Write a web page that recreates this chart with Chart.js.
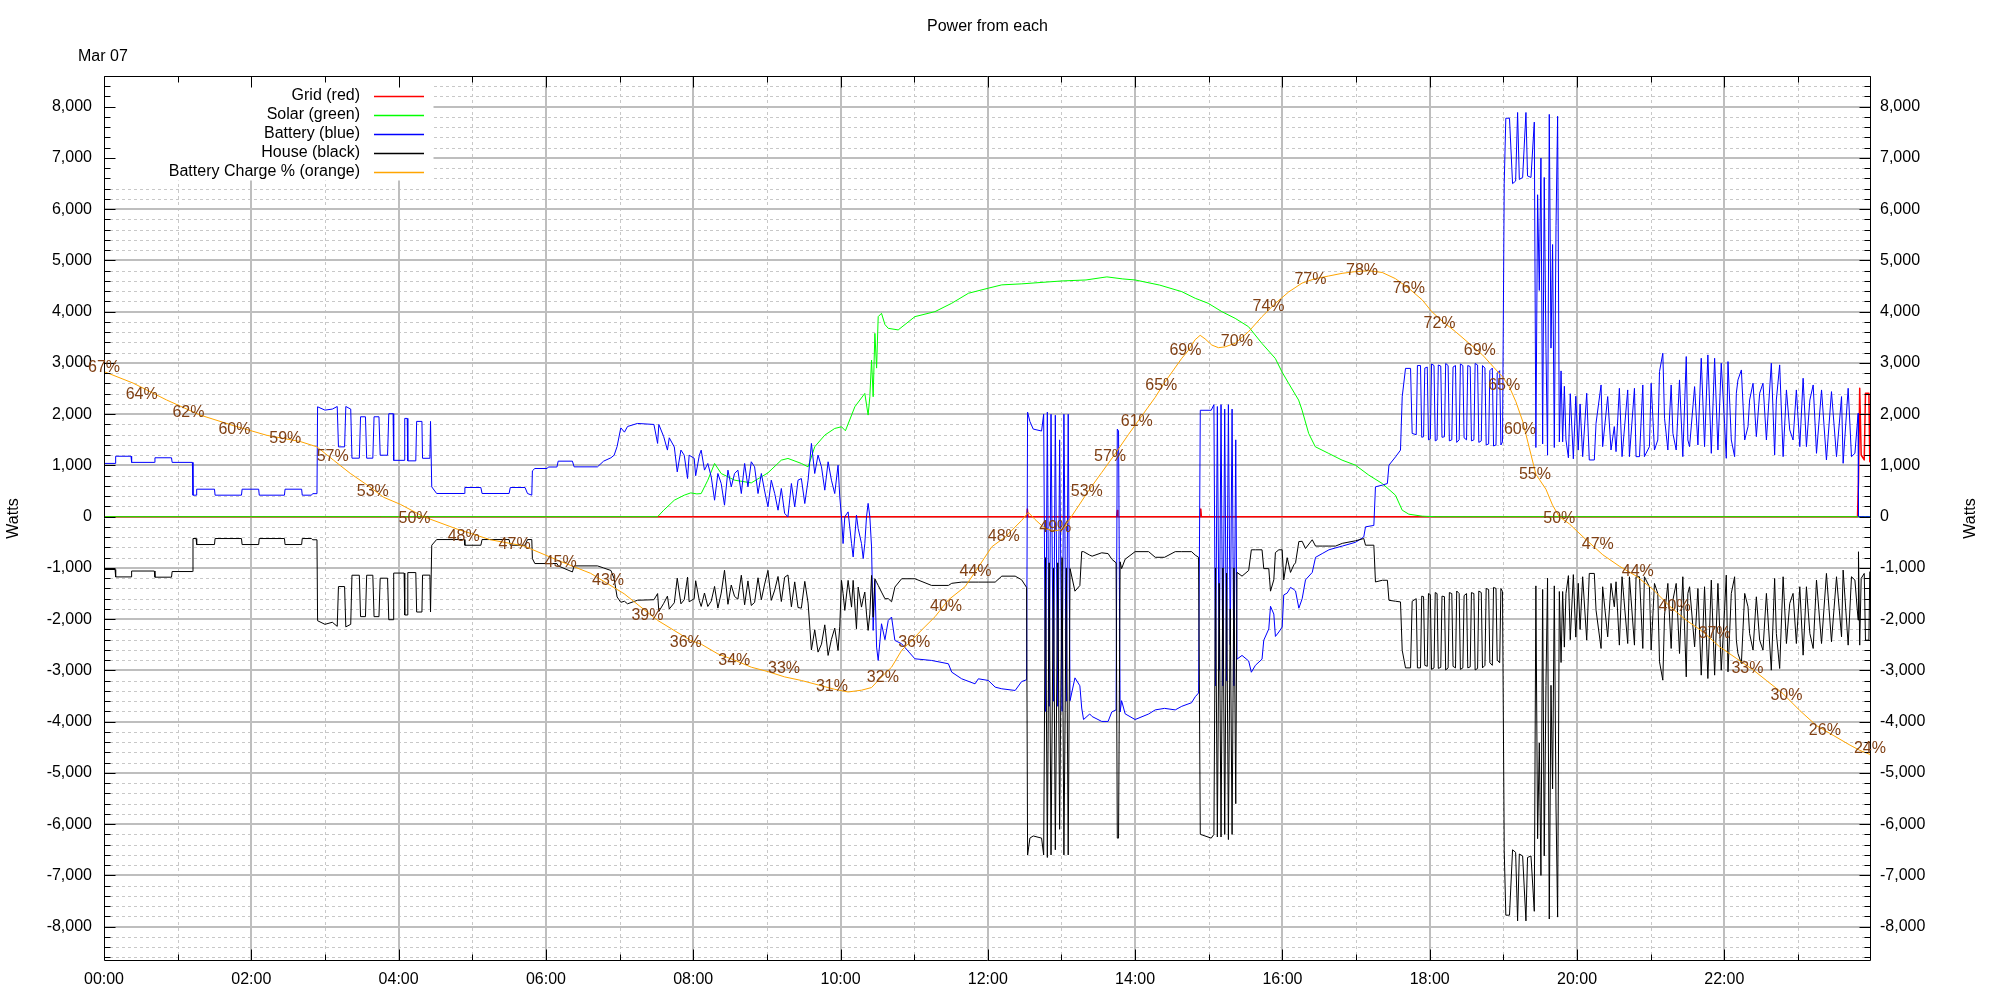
<!DOCTYPE html>
<html>
<head>
<meta charset="utf-8">
<title>Power from each</title>
<script src="https://cdn.jsdelivr.net/npm/chart.js@4.4.1/dist/chart.umd.min.js"></script>
<style>
  html, body { margin: 0; padding: 0; background: #fff; }
</style>
</head>
<body>
<canvas id="powerChart" width="2000" height="1000"></canvas>
<script>
// all times are minutes after midnight, Mar 07
const xTickLabels = ['00:00', '02:00', '04:00', '06:00', '08:00', '10:00', '12:00',
                     '14:00', '16:00', '18:00', '20:00', '22:00'];
const yTickValues = [-8000, -7000, -6000, -5000, -4000, -3000, -2000, -1000, 0,
                     1000, 2000, 3000, 4000, 5000, 6000, 7000, 8000];

// Grid (red), watts
const gridT = [0, 751.8, 752.2, 752.8, 825, 825.5, 826, 893, 893.5, 894,
               1428.5, 1429.3, 1430.3, 1431.5, 1434, 1435, 1437.8, 1438.5, 1439.5];
const gridW = [0, 0, 150, 0, 0, 120, 0, 0, 150, 0,
               0, 684, 2506, 1204, 1107, 2409, 2409, 1074, 1074];

// Solar (green), watts
const solarT = [0, 451, 456, 464.6, 472.7, 478, 483, 486.5, 491.9, 497.4,
                502.8, 513.7, 527.3, 535.5, 540.9, 551.8, 557.2, 568.1, 573.6, 579,
                587.2, 595.3, 600.8, 604, 611.7, 619.8, 622.5, 623.9, 625.3, 626.6,
                628, 629.4, 630.7, 633.4, 636.2, 638.9, 647, 660.6, 677, 690.6,
                704.2, 720.5, 731.4, 747.7, 780, 800, 817, 830, 840, 860,
                878, 889, 899.6, 910.7, 921.5, 932.4, 943.3, 954.2, 959.6, 965.1,
                973.2, 976, 981.4, 986.8, 997.7, 1008.6, 1019.5, 1030.4, 1041.3, 1052.1,
                1057.6, 1063, 1074, 1085, 1439.5];
const solarW = [0, 0, 127, 322, 420, 465, 445, 452, 713, 1039,
                843, 713, 660, 777, 856, 1104, 1137, 1039, 973, 1364,
                1592, 1722, 1755, 1677, 2146, 2406, 1983, 2341, 3057, 2341,
                3578, 2900, 3904, 3969, 3750, 3676, 3645, 3904, 4002, 4165,
                4360, 4460, 4524, 4544, 4600, 4620, 4680, 4640, 4620, 4520,
                4392, 4262, 4164, 4001, 3871, 3708, 3382, 3089, 2829, 2601,
                2276, 2080, 1625, 1365, 1235, 1104, 1006, 811, 648, 420,
                127, 49, 10, 0, 0];

// Battery (blue) and House (black) share one time axis
const powerT = [
  0, 9, 9.5, 22, 22.5, 41, 41.5, 55, 55.5, 72,
  72.5, 75, 75.5, 90, 90.5, 112, 112.5, 126, 126.5, 147,
  147.5, 161, 161.5, 169, 170, 173.5, 174, 180, 186, 190,
  191, 196, 197, 201, 202, 208, 209, 213, 214, 219,
  220, 224, 225, 231, 232, 235.5, 236, 244.5, 245, 247,
  247.5, 254, 254.7, 259, 259.5, 265.5, 266, 267, 271, 293.5,
  294, 307, 308, 330, 331, 343, 345, 348.5, 349, 351,
  361, 362, 369, 370, 381.6, 383, 402, 407, 413, 415.6,
  418, 421, 424, 426.5, 434.6, 448, 451, 452, 456, 459,
  460.5, 464.6, 467, 470, 472.7, 475.4, 476.7, 480.8, 482, 485,
  486.5, 489.2, 491.9, 494.7, 497.4, 500.1, 502.8, 505.5, 508.3, 511,
  513.7, 516.4, 519.2, 521.9, 524.6, 527.3, 530, 532.8, 535.5, 538.2,
  540.9, 543.6, 546.4, 549.1, 551.8, 554.5, 557.2, 560, 562.7, 565.4,
  568.1, 570.9, 573.6, 576.3, 579, 581.7, 584.5, 587.2, 589.9, 592.6,
  595.3, 598, 599.4, 600.8, 602.1, 603.5, 606.2, 609, 610.3, 613,
  614.4, 617.1, 618.5, 619.8, 621.2, 622.5, 623.9, 625.3, 626.6, 628,
  629.4, 630.7, 633.4, 636.2, 638.9, 641.6, 644.3, 649.8, 660.6, 674.2,
  687.9, 690.6, 698.7, 709.6, 712.3, 720.5, 726, 731.4, 742.3, 747.5,
  751.6, 752.4, 754.3, 757, 763.8, 765.5, 767, 768.5, 770, 771.5,
  773.5, 775, 777, 778.5, 780.5, 782, 784, 785.5, 787, 791,
  795, 796.5, 798, 803, 805, 812.8, 818, 821, 824.5, 825.5,
  826.5, 827.8, 829, 831.9, 840, 851, 856.4, 864, 872.7, 878,
  886, 889, 891.7, 893.1, 902, 904.2, 905.5, 907, 908.5, 910,
  911.5, 913, 914.5, 916, 917.5, 919, 920.5, 922, 923, 927.1,
  932.5, 934.7, 938, 943.4, 944.8, 948.9, 950.3, 953, 954.3, 957.1,
  959.8, 961.1, 963.9, 966.6, 969.3, 970.7, 973.4, 976.1, 978.8, 984.3,
  987, 992.4, 997.9, 1003.3, 1008.8, 1019.6, 1026.3, 1027.7, 1034.5, 1035.8,
  1041.4, 1045.5, 1046.8, 1052.2, 1056.2, 1057.6, 1060.3, 1064.4, 1065.7, 1069,
  1070, 1072.5, 1073.5, 1075, 1076, 1078, 1079, 1080.5, 1081.5, 1083.5,
  1084.5, 1086, 1087, 1089, 1090, 1092, 1093, 1095, 1096, 1098,
  1099, 1101, 1102, 1104, 1105, 1107, 1108, 1110, 1111, 1113,
  1114, 1116, 1117, 1119, 1120, 1122, 1123, 1125, 1126, 1128,
  1129, 1131, 1132, 1134, 1135, 1137, 1138, 1139.3, 1140.7, 1142,
  1145, 1147.5, 1150, 1151.6, 1153, 1155.7, 1158.4, 1159.7, 1162.5, 1165.2,
  1166.5, 1167.9, 1169.3, 1170.6, 1172, 1173.3, 1174.7, 1176, 1177.4, 1178.8,
  1180.1, 1181.5, 1182.9, 1184.2, 1185.6, 1187, 1188.3, 1189.7, 1191, 1193,
  1194.5, 1197, 1199, 1201, 1202.5, 1204.6, 1207.9, 1210, 1214.1, 1215.5,
  1219.6, 1220.9, 1225, 1227.7, 1230.4, 1231.8, 1234.5, 1236.7, 1241.3, 1242.7,
  1246.8, 1248.1, 1250.9, 1253.6, 1254.9, 1259, 1260.4, 1263.1, 1265.8, 1267.2,
  1269.9, 1271.3, 1274, 1276.7, 1278.1, 1280.8, 1283.5, 1286.2, 1289, 1290.3,
  1291.7, 1295.8, 1298.5, 1301.2, 1303.9, 1306.6, 1309.4, 1312.1, 1314.8, 1317.5,
  1320.2, 1321.6, 1323, 1325.7, 1328.4, 1329.8, 1331.1, 1333.9, 1336.6, 1339.3,
  1340.6, 1343.4, 1346.1, 1348.8, 1351.5, 1354.3, 1358.3, 1361, 1362.4, 1365.1,
  1367.9, 1370.6, 1373.3, 1376, 1378.7, 1381.5, 1384.2, 1386.9, 1389.7, 1392.4,
  1395.1, 1399.2, 1403.2, 1407.3, 1411.4, 1415.5, 1416.8, 1420.9, 1423.6, 1426.4,
  1429, 1429.3, 1430.3, 1431.5, 1434, 1435, 1437.8, 1438.5, 1439.5
];
const batteryW = [
  1040, 1040, 1180, 1180, 1060, 1060, 1150, 1150, 1060, 1060,
  420, 420, 537, 537, 420, 420, 537, 537, 420, 420,
  537, 537, 420, 420, 450, 450, 2145, 2080, 2100, 2150,
  1363, 1363, 2150, 2100, 1142, 1142, 1950, 1950, 1142, 1142,
  1950, 1950, 1200, 1200, 2010, 2010, 1100, 1100, 1918, 1918,
  1090, 1090, 1860, 1860, 1140, 1140, 1860, 582, 453, 453,
  570, 570, 453, 453, 570, 570, 453, 420, 895, 941,
  941, 970, 970, 1084, 1084, 973, 973, 1084, 1150, 1201,
  1370, 1734, 1650, 1760, 1820, 1800, 1430, 1800, 1560, 1300,
  1540, 1360, 875, 1300, 1200, 746, 1200, 1140, 800, 1200,
  1299, 909, 1039, 778, 322, 843, 648, 225, 909, 583,
  843, 909, 452, 1039, 583, 1072, 973, 452, 843, 500,
  192, 713, 452, 127, 551, 62, 0, 648, 192, 713,
  745, 257, 713, 1430, 843, 1202, 973, 518, 1072, 713,
  452, 1006, 387, 0, -524, 0, 94, -524, -785, 29,
  -230, -524, -817, -524, 0, 260, 0, -590, -2219, -1243,
  -2545, -2805, -2089, -2400, -2024, -1958, -2414, -2480, -2773, -2805,
  -2870, -3033, -3163, -3261, -3163, -3196, -3326, -3358, -3391, -3218,
  -3181, 2040, 1857, 1710, 1672, 2000, -3800, 2040, -3700, 2000,
  -3600, 1980, -3700, 1500, -3800, 2000, -3600, 2000, -3590, -3145,
  -3300, -3734, -3958, -3850, -3900, -3995, -3995, -3810, -3770, 1710,
  1672, -3810, -3590, -3847, -3958, -3850, -3770, -3740, -3770, -3700,
  -3630, -3513, -3440, 2077, 2077, 2187, -3300, 2150, -3000, 2187,
  -3300, 2100, -3200, 2187, -2500, 2100, -3300, 1500, -2780, -2707,
  -2815, -3035, -2900, -2780, -2411, -2190, -1748, -1900, -2337, -2250,
  -2153, -1527, -1490, -1380, -1420, -1450, -1785, -1600, -1233, -1087,
  -793, -720, -646, -609, -573, -499, -394, -198, -170, 583,
  616, 648, 1006, 1169, 1299, 2341, 2894, 2894, 1625, 1600,
  2950, 2950, 1550, 1560, 2900, 2920, 1500, 1520, 2980, 2950,
  1480, 1500, 2960, 2940, 1550, 1560, 2990, 2950, 1480, 1500,
  2920, 2950, 1450, 1500, 2980, 2950, 1540, 1500, 2950, 2930,
  1480, 1500, 2990, 2960, 1450, 1480, 2950, 2900, 1400, 1420,
  2850, 2900, 1380, 1400, 2800, 2850, 1400, 1460, 6507, 7776,
  7776, 6500, 6550, 7888, 6582, 6620, 7888, 6650, 6620, 7700,
  1350, 6283, 4415, 7000, 1420, 6620, 3290, 1200, 7851, 3290,
  5311, 1350, 5685, 7813, 1460, 2845, 1460, 2545, 1500, 1150,
  2400, 1130, 2350, 1300, 2200, 1172, 2409, 1107, 1107, 1823,
  2571, 1367, 2344, 1302, 1758, 1270, 2506, 1172, 2474, 1172,
  2506, 1172, 1172, 2571, 1172, 1367, 2604, 1302, 1497, 2832,
  3190, 1921, 1302, 2571, 1628, 1302, 2669, 1172, 3125, 1497,
  1367, 2539, 1400, 3092, 1367, 3157, 1237, 3092, 1302, 2995,
  1823, 1140, 3027, 1497, 1172, 2409, 2669, 2864, 1497, 1758,
  2278, 2604, 1563, 2409, 2604, 1497, 2995, 1205, 2278, 2962,
  1172, 2474, 1693, 1497, 2474, 1367, 2702, 1367, 2278, 2571,
  1237, 2474, 1107, 2441, 1172, 2344, 1042, 2506, 1172, 1237,
  2018, 0, 0, 0, 0, 0, 0, 0, 0
];
const houseW = [
  -1030, -1030, -1175, -1175, -1060, -1060, -1180, -1180, -1070, -1070,
  -426, -426, -543, -543, -426, -426, -543, -543, -426, -426,
  -543, -543, -426, -426, -450, -450, -2030, -2100, -2060, -2140,
  -1363, -1363, -2150, -2100, -1142, -1142, -1950, -1950, -1142, -1142,
  -1950, -1950, -1200, -1200, -2010, -2010, -1100, -1100, -1918, -1918,
  -1090, -1090, -1860, -1860, -1140, -1140, -1860, -557, -446, -446,
  -557, -557, -446, -446, -557, -557, -446, -446, -817, -914,
  -914, -914, -914, -960, -1078, -960, -960, -1000, -1050, -1211,
  -1566, -1670, -1650, -1700, -1630, -1620, -1500, -1850, -1690, -1550,
  -1800, -1680, -1200, -1700, -1620, -1180, -1660, -1600, -1250, -1640,
  -1751, -1489, -1752, -1648, -1361, -1783, -1491, -1045, -1709, -1333,
  -1556, -1609, -1142, -1719, -1253, -1732, -1673, -1192, -1620, -1315,
  -1048, -1633, -1432, -1167, -1655, -1182, -1137, -1758, -1272, -1773,
  -1784, -1262, -1686, -2600, -2207, -2642, -2488, -2110, -2707, -2393,
  -2174, -2610, -2137, -1243, -1500, -1829, -1243, -1764, -1243, -2186,
  -1373, -1764, -1600, -1471, -1900, -2219, -1900, -1146, -1960, -1211,
  -1280, -1340, -1471, -1600, -1600, -1660, -1373, -1211, -1211, -1341,
  -1341, -1300, -1276, -1276, -1276, -1276, -1276, -1160, -1160, -1230,
  -1380, -6603, -6272, -6230, -6272, -6600, -800, -6650, -900, -6600,
  -1000, -6500, -900, -6100, -800, -6600, -1000, -6600, -1013, -1453,
  -1343, -682, -682, -750, -770, -704, -720, -829, -900, -6272,
  -6272, -880, -1013, -829, -682, -682, -792, -792, -682, -682,
  -682, -750, -792, -6198, -6272, -6200, -1000, -6250, -1300, -6250,
  -1000, -6200, -1100, -6300, -1800, -6200, -1000, -5600, -1087, -1160,
  -1050, -646, -646, -646, -1013, -1013, -1453, -1230, -700, -646,
  -646, -1233, -800, -1087, -940, -900, -485, -480, -620, -450,
  -573, -573, -573, -573, -520, -470, -426, -556, -556, -1273,
  -1240, -1240, -1631, -1650, -1663, -2607, -2950, -2950, -1650, -1600,
  -2950, -2950, -1550, -1560, -2900, -2920, -1500, -1520, -2980, -2950,
  -1480, -1500, -2960, -2940, -1550, -1560, -2990, -2950, -1480, -1500,
  -2920, -2950, -1450, -1500, -2980, -2950, -1540, -1500, -2950, -2930,
  -1480, -1500, -2990, -2960, -1450, -1480, -2950, -2900, -1400, -1420,
  -2850, -2900, -1380, -1400, -2800, -2850, -1400, -1460, -6507, -7776,
  -7776, -6500, -6550, -7888, -6582, -6620, -7888, -6650, -6620, -7700,
  -1350, -6283, -4415, -7000, -1420, -6620, -3290, -1200, -7851, -3290,
  -5311, -1350, -5685, -7813, -1460, -2845, -1460, -2545, -1500, -1150,
  -2400, -1130, -2350, -1300, -2200, -1172, -2409, -1107, -1107, -1823,
  -2571, -1367, -2344, -1302, -1758, -1270, -2506, -1172, -2474, -1172,
  -2506, -1172, -1172, -2571, -1172, -1367, -2604, -1302, -1497, -2832,
  -3190, -1921, -1302, -2571, -1628, -1302, -2669, -1172, -3125, -1497,
  -1367, -2539, -1400, -3092, -1367, -3157, -1237, -3092, -1302, -2995,
  -1823, -1140, -3027, -1497, -1172, -2409, -2669, -2864, -1497, -1758,
  -2278, -2604, -1563, -2409, -2604, -1497, -2995, -1205, -2278, -2962,
  -1172, -2474, -1693, -1497, -2474, -1367, -2702, -1367, -2278, -2571,
  -1237, -2474, -1107, -2441, -1172, -2344, -1042, -2506, -1172, -1237,
  -2018, -684, -2506, -1204, -1107, -2409, -2409, -1074, -1074
];

// Battery charge (orange), percent
const chargeT = [0, 23.7, 50.9, 78.1, 105.3, 132.6, 159.8, 173.4, 186.9, 200.6,
                 214.2, 227.8, 241.4, 260.4, 287.7, 314.8, 342, 369.3, 396.5, 423.7,
                 450.9, 478.1, 486.5, 500.1, 513.7, 527.3, 540.9, 554.5, 568.1, 581.7,
                 595.3, 606.2, 617.1, 625.3, 633.4, 641.6, 649.8, 657.9, 666.1, 677,
                 687.9, 701.5, 712.3, 723.2, 734.1, 747.7, 753, 758.4, 763.9, 767.9,
                 774.7, 781.5, 785.6, 793.8, 801.9, 812.8, 823.7, 834.6, 845.5, 856.4,
                 863.2, 878, 883.4, 888.9, 893, 897, 902.5, 907.9, 913.4, 921.5,
                 932.4, 943.3, 954.2, 965.1, 976, 986.8, 997.7, 1008.6, 1019.5, 1030.4,
                 1041.3, 1052.1, 1063, 1073.9, 1081.5, 1090.2, 1101.1, 1112, 1122.9, 1139.3,
                 1144.8, 1150.2, 1155.7, 1161.1, 1166.5, 1174.7, 1180.1, 1185.6, 1193.7, 1207.4,
                 1221, 1234.6, 1248.2, 1261.8, 1275.4, 1289, 1302.6, 1316.2, 1329.8, 1343.4,
                 1354.3, 1367.9, 1381.5, 1395.1, 1408.7, 1422.3, 1430.4, 1439.5];
const chargeP = [66.6, 65.3, 63.4, 61.7, 60.5, 59.4, 58.7, 58.1, 56.6, 55.1,
                 53.8, 52.4, 51.6, 50.2, 48.8, 47.6, 46.9, 45.3, 43.8, 41.5,
                 38.5, 36.2, 35.8, 34.7, 34.0, 33.2, 32.7, 32.1, 31.7, 31.2,
                 30.7, 30.4, 30.6, 30.9, 32.1, 33.2, 35.1, 36.2, 37.4, 38.9,
                 40.8, 42.3, 44.5, 46.8, 47.9, 49.8, 50.7, 49.9, 49.2, 48.8,
                 48.6, 48.8, 49.7, 51.4, 53.1, 55.2, 57.3, 59.5, 61.6, 63.7,
                 65.2, 68.1, 69.0, 70.2, 70.7, 70.3, 69.6, 69.3, 69.4, 69.8,
                 71.1, 72.8, 74.3, 75.6, 76.6, 77.1, 77.4, 77.7, 77.9, 78.0,
                 77.8, 77.1, 76.0, 74.7, 73.4, 72.3, 71.1, 69.8, 68.5, 66.0,
                 64.9, 63.2, 61.0, 58.0, 55.0, 53.3, 51.5, 50.2, 49.4, 47.6,
                 45.9, 44.6, 43.5, 42.0, 40.1, 38.5, 37.2, 35.5, 34.2, 32.9,
                 31.7, 30.2, 28.3, 26.6, 25.5, 24.4, 23.8, 23.3];

// the "NN%" labels along the orange line
const labelT = [0, 30.7, 68.8, 106.3, 147.7, 186.3, 219, 253, 293, 334.5,
                372, 410.6, 442.7, 474, 513.5, 554, 593, 634.5, 660, 686,
                710, 733, 775, 800.6, 819.6, 841.4, 861.3, 881, 922.9, 948.7,
                982.8, 1024.9, 1063, 1088, 1120.8, 1140.7, 1153.5, 1165.7, 1185.6, 1216.9,
                1249.5, 1279.5, 1312, 1338.8, 1370.6, 1401.9, 1438.6];
const labelP = [67, 64, 62, 60, 59, 57, 53, 50, 48, 47,
                45, 43, 39, 36, 34, 33, 31, 32, 36, 40,
                44, 48, 49, 53, 57, 61, 65, 69, 70, 74,
                77, 78, 76, 72, 69, 65, 60, 55, 50, 47,
                44, 40, 37, 33, 30, 26, 24];

const FONT = '"Liberation Sans", Arial, sans-serif';
const W_MIN = -8670, W_MAX = 8600;

const toXY = (t, v) => t.map((x, i) => ({ x: x, y: v[i] }));

const legendItems = [
  { text: 'Grid (red)', color: '#ff0000' },
  { text: 'Solar (green)', color: '#00ff00' },
  { text: 'Battery (blue)', color: '#0000ff' },
  { text: 'House (black)', color: '#000000' },
  { text: 'Battery Charge % (orange)', color: '#ffa500' }
];

// gnuplot look: grid, border with tics, key box, labels
const gnuplotFrame = {
  id: 'gnuplotFrame',
  beforeDraw(chart) {
    const ctx = chart.ctx;
    ctx.save();
    ctx.fillStyle = '#ffffff';
    ctx.fillRect(0, 0, chart.width, chart.height);
    ctx.restore();
  },
  beforeDatasetsDraw(chart) {
    const { ctx, chartArea: a, scales: { x, y } } = chart;
    ctx.save();
    // minor grid, dashed
    ctx.lineWidth = 1;
    ctx.strokeStyle = '#c8c8c8';
    ctx.setLineDash([3, 3]);
    ctx.beginPath();
    for (let v = -8600; v <= 8600; v += 200) {
      if (v % 1000 === 0) continue;
      const py = Math.round(y.getPixelForValue(v)) + 0.5;
      ctx.moveTo(a.left, py); ctx.lineTo(a.right, py);
    }
    for (let m = 60; m < 1440; m += 120) {
      const px = Math.round(x.getPixelForValue(m)) + 0.5;
      ctx.moveTo(px, a.top); ctx.lineTo(px, a.bottom);
    }
    ctx.stroke();
    // major grid, solid
    ctx.setLineDash([]);
    ctx.strokeStyle = '#bebebe';
    ctx.lineWidth = 2;
    ctx.beginPath();
    yTickValues.forEach(v => {
      const py = Math.round(y.getPixelForValue(v));
      ctx.moveTo(a.left, py); ctx.lineTo(a.right, py);
    });
    for (let m = 120; m < 1440; m += 120) {
      const px = Math.round(x.getPixelForValue(m));
      ctx.moveTo(px, a.top); ctx.lineTo(px, a.bottom);
    }
    ctx.stroke();
    ctx.restore();
  },
  afterDatasetsDraw(chart) {
    const { ctx, chartArea: a, scales: { x, y } } = chart;
    const L = Math.round(a.left) + 0.5, R = Math.round(a.right) - 0.5;
    const T = Math.round(a.top) + 0.5, B = Math.round(a.bottom) - 0.5;
    ctx.save();

    // key box
    ctx.fillStyle = '#ffffff';
    ctx.fillRect(L + 0.5, T + 0.5, 433 - L, 180 - T);
    ctx.font = '16px ' + FONT;
    ctx.textAlign = 'right';
    ctx.textBaseline = 'middle';
    legendItems.forEach((it, i) => {
      const ry = 96 + i * 19;
      ctx.fillStyle = '#000000';
      ctx.fillText(it.text, 360, ry);
      ctx.strokeStyle = it.color;
      ctx.lineWidth = 1.3;
      ctx.beginPath();
      ctx.moveTo(374, ry + 0.5); ctx.lineTo(424, ry + 0.5);
      ctx.stroke();
    });

    // border and tics
    ctx.strokeStyle = '#000000';
    ctx.lineWidth = 1;
    ctx.beginPath();
    ctx.rect(L, T, R - L, B - T);
    for (let v = -8600; v <= 8600; v += 200) {
      const py = Math.round(y.getPixelForValue(v)) + 0.5;
      const len = v % 1000 === 0 ? 11 : 6;
      ctx.moveTo(L, py); ctx.lineTo(L + len, py);
      ctx.moveTo(R, py); ctx.lineTo(R - len, py);
    }
    for (let m = 60; m < 1440; m += 60) {
      const px = Math.round(x.getPixelForValue(m)) + 0.5;
      const len = m % 120 === 0 ? 11 : 6;
      ctx.moveTo(px, B); ctx.lineTo(px, B - len);
      ctx.moveTo(px, T); ctx.lineTo(px, T + len);
    }
    ctx.stroke();

    // percent labels on the charge line
    const meta = chart.getDatasetMeta(5);
    ctx.fillStyle = '#804014';
    ctx.textAlign = 'center';
    ctx.textBaseline = 'middle';
    meta.data.forEach((pt, i) => {
      ctx.fillText(labelP[i] + '%', pt.x, pt.y);
    });
    ctx.restore();
  },
  afterDraw(chart) {
    const { ctx, chartArea: a } = chart;
    ctx.save();
    ctx.fillStyle = '#000000';
    ctx.font = '16px ' + FONT;
    ctx.textBaseline = 'middle';
    ctx.textAlign = 'center';
    ctx.fillText('Power from each', (a.left + a.right) / 2, 27);
    ctx.textAlign = 'left';
    ctx.fillText('Mar 07', 78, 57);
    ctx.textAlign = 'center';
    ctx.translate(14, (a.top + a.bottom) / 2);
    ctx.rotate(-Math.PI / 2);
    ctx.fillText('Watts', 0, 0);
    ctx.restore();
    ctx.save();
    ctx.fillStyle = '#000000';
    ctx.font = '16px ' + FONT;
    ctx.textBaseline = 'middle';
    ctx.textAlign = 'center';
    ctx.translate(1971, (a.top + a.bottom) / 2);
    ctx.rotate(-Math.PI / 2);
    ctx.fillText('Watts', 0, 0);
    ctx.restore();
  }
};

const tickFont = { family: FONT, size: 16 };
const wattTick = v => v.toLocaleString('en-US');
const fixedWattTicks = s => { s.ticks = yTickValues.map(v => ({ value: v })); };

new Chart(document.getElementById('powerChart'), {
  type: 'line',
  data: {
    datasets: [
      { label: 'Grid (red)', data: toXY(gridT, gridW), borderColor: '#ff0000', borderWidth: 1.5, order: 5 },
      { label: 'Solar (green)', data: toXY(solarT, solarW), borderColor: '#00ff00', order: 4 },
      { label: 'Battery (blue)', data: toXY(powerT, batteryW), borderColor: '#0000ff', order: 3 },
      { label: 'House (black)', data: toXY(powerT, houseW), borderColor: '#000000', order: 2 },
      { label: 'Battery Charge % (orange)', data: toXY(chargeT, chargeP), borderColor: '#ffa500', yAxisID: 'yPct', order: 1 },
      { label: 'charge labels', data: toXY(labelT, labelP), yAxisID: 'yPct', showLine: false, order: 0 }
    ]
  },
  options: {
    responsive: false,
    animation: false,
    devicePixelRatio: 1,
    events: [],
    layout: { padding: { top: 76, left: 0, right: 0, bottom: 0 } },
    elements: {
      point: { radius: 0, hitRadius: 0, hoverRadius: 0 },
      line: { borderWidth: 1, tension: 0, fill: false, borderJoinStyle: 'round' }
    },
    plugins: { legend: { display: false }, tooltip: { enabled: false }, title: { display: false } },
    scales: {
      x: {
        type: 'linear', position: 'bottom', min: 0, max: 1439.5,
        grid: { display: false, drawTicks: false },
        border: { display: false },
        ticks: {
          stepSize: 120, includeBounds: false, autoSkip: false, maxRotation: 0,
          padding: 9, color: '#000', font: tickFont,
          callback: v => xTickLabels[Math.round(v / 120)]
        },
        afterBuildTicks: s => { s.ticks = xTickLabels.map((_, i) => ({ value: i * 120 })); },
        afterFit: s => { s.height = 39; }
      },
      y: {
        type: 'linear', position: 'left', min: W_MIN, max: W_MAX,
        grid: { display: false, drawTicks: false },
        border: { display: false },
        ticks: { padding: 12, color: '#000', font: tickFont, callback: wattTick },
        afterBuildTicks: fixedWattTicks,
        afterFit: s => { s.width = 104; }
      },
      yR: {
        type: 'linear', position: 'right', min: W_MIN, max: W_MAX,
        grid: { display: false, drawTicks: false },
        border: { display: false },
        ticks: { padding: 9, color: '#000', font: tickFont, callback: wattTick },
        afterBuildTicks: fixedWattTicks,
        afterFit: s => { s.width = 129; }
      },
      yPct: { type: 'linear', display: false, min: 0, max: 100 }
    }
  },
  plugins: [gnuplotFrame]
});
</script>
</body>
</html>
